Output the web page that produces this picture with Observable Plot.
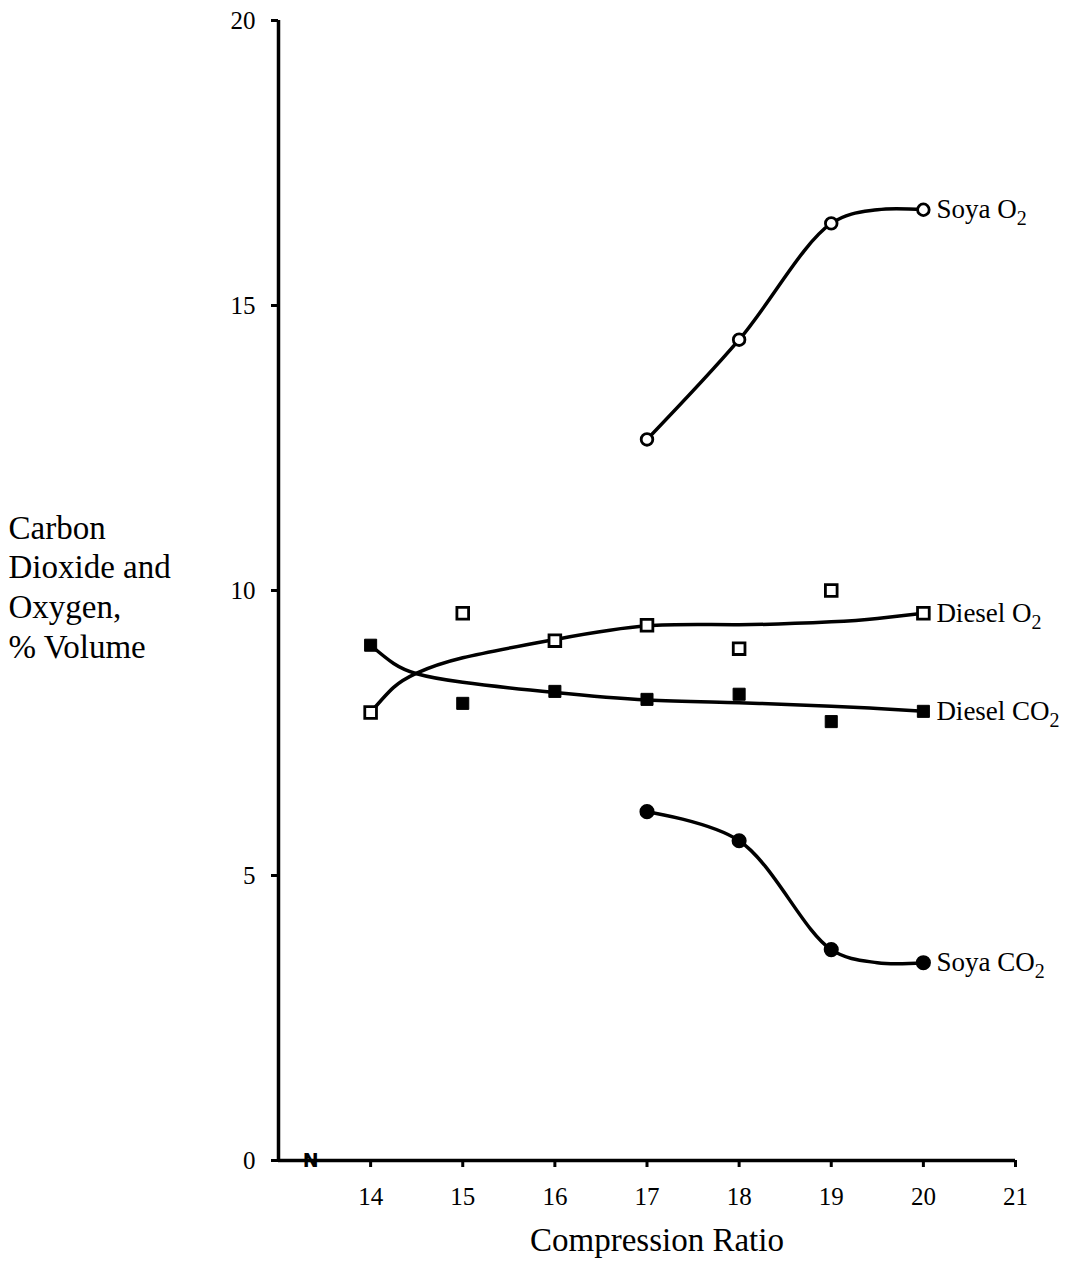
<!DOCTYPE html>
<html>
<head>
<meta charset="utf-8">
<script src="https://cdn.jsdelivr.net/npm/d3@7"></script>
<script src="https://cdn.jsdelivr.net/npm/@observablehq/plot@0.6"></script>
<style>
  body { margin: 0; background: #fff; }
  svg { display: block; }
</style>
</head>
<body>
<div id="chart"></div>
<script>
// Measured points
const xRatio = [14, 15, 16, 17, 18, 19, 20];
const dieselO2 = [7.86, 9.6, 9.12, 9.39, 8.98, 10.0, 9.6];
const dieselCO2 = [9.04, 8.02, 8.23, 8.09, 8.18, 7.70, 7.88];
const soyaX = [17, 18, 19, 20];
const soyaO2 = [12.65, 14.4, 16.44, 16.68];
const soyaCO2 = [6.12, 5.61, 3.70, 3.47];

// Hand-drawn fitted curves
const dieselFitX = [14, 14.25, 14.5, 15, 16, 17, 18, 19, 19.5, 20];
const dieselO2Fit = [7.86, 8.3, 8.55, 8.82, 9.14, 9.38, 9.40, 9.45, 9.51, 9.6];
const dieselCO2Fit = [9.04, 8.72, 8.54, 8.39, 8.21, 8.08, 8.03, 7.97, 7.93, 7.88];
const soyaFitX = [17, 18, 19, 19.5, 20];
const soyaO2Fit = [12.65, 14.4, 16.44, 16.68, 16.68];
const soyaCO2Fit = [6.12, 5.61, 3.70, 3.47, 3.47];

const seriesLabels = ["Soya O₂", "Diesel O₂", "Diesel CO₂", "Soya CO₂"];
const xTicks = [14, 15, 16, 17, 18, 19, 20, 21];
const yTicks = [0, 5, 10, 15, 20];
const axisBreakAt = [13.35];
const xTitle = "Compression Ratio";
const yTitle = "Carbon\nDioxide and\nOxygen,\n% Volume";

const pts = (xs, ys, s) => xs.map((x, i) => ({x, y: ys[i], s}));
const dieselCurves = [
  ...pts(dieselFitX, dieselO2Fit, "dO2"),
  ...pts(dieselFitX, dieselCO2Fit, "dCO2")
];
const soyaCurves = [
  ...pts(soyaFitX, soyaO2Fit, "sO2"),
  ...pts(soyaFitX, soyaCO2Fit, "sCO2")
];
const dO2 = pts(xRatio, dieselO2, "dO2");
const dCO2 = pts(xRatio, dieselCO2, "dCO2");
const sO2 = pts(soyaX, soyaO2, "sO2");
const sCO2 = pts(soyaX, soyaCO2, "sCO2");
const labels = [
  {x: soyaX[3], y: soyaO2[3], t: seriesLabels[0]},
  {x: xRatio[6], y: dieselO2[6], t: seriesLabels[1]},
  {x: xRatio[6], y: dieselCO2[6], t: seriesLabels[2]},
  {x: soyaX[3], y: soyaCO2[3], t: seriesLabels[3]}
];

const font = "'Liberation Serif', 'DejaVu Serif', serif";

const chart = Plot.plot({
  width: 1078,
  height: 1263,
  marginLeft: 278,
  marginRight: 63,
  marginTop: 20,
  marginBottom: 103,
  style: {fontFamily: font, fontSize: "25px", color: "#000", background: "#fff"},
  x: {domain: [13, 21], label: null},
  y: {domain: [0, 20], label: null},
  marks: [
    Plot.axisX({ticks: xTicks, tickSize: 7, tickPadding: 20, strokeWidth: 3, fontSize: 25, label: null}),
    Plot.axisY({ticks: yTicks, tickSize: 7, tickPadding: 16, strokeWidth: 3, fontSize: 25, label: null}),
    Plot.ruleY([0], {strokeWidth: 3.5}),
    Plot.ruleX([13], {strokeWidth: 3.5}),
    Plot.text(axisBreakAt, {x: d => d, y: 0, text: () => "N", fontFamily: "DejaVu Sans", fontWeight: "bold", fontSize: 19}),
    Plot.line(dieselCurves, {x: "x", y: "y", z: "s", curve: "natural", stroke: "#000", strokeWidth: 3.5}),
    Plot.line(soyaCurves, {x: "x", y: "y", z: "s", curve: "catmull-rom", stroke: "#000", strokeWidth: 3.5}),
    Plot.dot(dO2, {x: "x", y: "y", symbol: "square", r: 6.6, fill: "#fff", stroke: "#000", strokeWidth: 2.8}),
    Plot.dot(dCO2, {x: "x", y: "y", symbol: "square", r: 6.8, fill: "#000", stroke: "#000", strokeWidth: 1}),
    Plot.dot(sO2, {x: "x", y: "y", r: 5.8, fill: "#fff", stroke: "#000", strokeWidth: 2.8}),
    Plot.dot(sCO2, {x: "x", y: "y", r: 6.8, fill: "#000", stroke: "#000"}),
    Plot.text(labels, {x: "x", y: "y", text: "t", textAnchor: "start", dx: 13, fontSize: 27, className: "series-label"}),
    Plot.text([xTitle], {frameAnchor: "bottom", dx: 10, dy: 90, fontSize: 33}),
    Plot.text([yTitle], {y: 10, frameAnchor: "left", textAnchor: "start", dx: -270, dy: -5, fontSize: 33, lineHeight: 1.2})
  ]
});
// render the ₂ as a proper subscript
chart.querySelectorAll("g.series-label text").forEach(t => {
  const s = t.textContent;
  if (s.includes("₂")) {
    const base = s.replace("₂", "");
    t.textContent = "";
    const ns = "http://www.w3.org/2000/svg";
    const a = document.createElementNS(ns, "tspan");
    a.textContent = base;
    const b = document.createElementNS(ns, "tspan");
    b.textContent = "2";
    b.setAttribute("dy", "7");
    b.setAttribute("font-size", "20");
    t.appendChild(a);
    t.appendChild(b);
  }
});
document.getElementById("chart").appendChild(chart);
</script>
</body>
</html>
